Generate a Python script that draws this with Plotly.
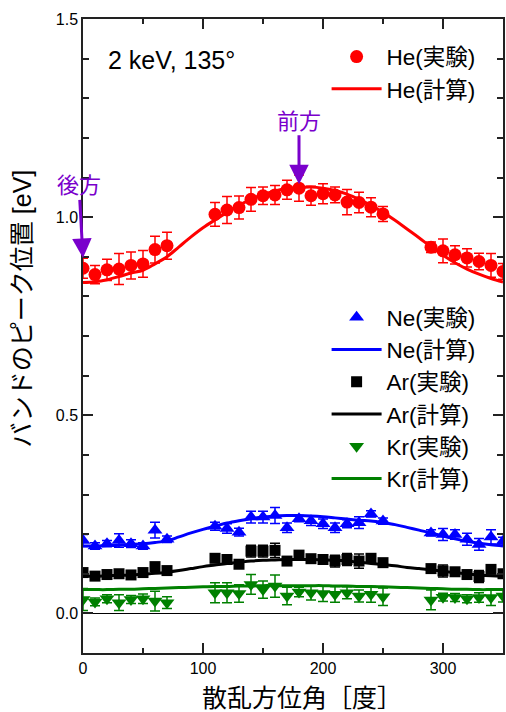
import plotly.graph_objects as go

# ---------------- data ----------------
angles_exp = [0, 10, 20, 30, 40, 50, 60, 70,
              110, 120, 130, 140, 150, 160, 170, 180, 190, 200, 210, 220, 230, 240, 250,
              290, 300, 310, 320, 330, 340, 350]
angles_calc = list(range(0, 360, 10))

he_exp = [0.871, 0.855, 0.867, 0.869, 0.878, 0.882, 0.918, 0.928,
          1.007, 1.018, 1.024, 1.045, 1.054, 1.056, 1.069, 1.073, 1.054, 1.059, 1.056, 1.038, 1.037, 1.025, 1.008,
          0.924, 0.915, 0.905, 0.897, 0.888, 0.878, 0.863]
he_err = [0.025, 0.023, 0.027, 0.039, 0.034, 0.034, 0.034, 0.034,
          0.030, 0.034, 0.029, 0.030, 0.022, 0.024, 0.024, 0.033, 0.024, 0.025, 0.020, 0.032, 0.026, 0.024, 0.019,
          0.013, 0.030, 0.023, 0.023, 0.021, 0.030, 0.020]
he_calc = [0.835, 0.837, 0.842, 0.850, 0.859, 0.866, 0.882, 0.900, 0.925, 0.950, 0.973, 0.993, 1.012, 1.030,
           1.045, 1.057, 1.066, 1.072, 1.075, 1.076, 1.073, 1.067, 1.058, 1.045, 1.030, 1.012, 0.992, 0.970,
           0.948, 0.925, 0.904, 0.885, 0.869, 0.856, 0.845, 0.836]

ne_exp = [0.184, 0.170, 0.176, 0.184, 0.176, 0.170, 0.210, 0.187,
          0.220, 0.214, 0.205, 0.243, 0.243, 0.247, 0.216, 0.239, 0.234, 0.226, 0.216, 0.226, 0.229, 0.251, 0.233,
          0.203, 0.199, 0.199, 0.187, 0.174, 0.193, 0.182]
ne_err = [0.015, 0.008, 0.008, 0.017, 0.010, 0.008, 0.020, 0.008,
          0.010, 0.012, 0.010, 0.015, 0.015, 0.020, 0.012, 0.008, 0.012, 0.012, 0.012, 0.010, 0.015, 0.008, 0.008,
          0.008, 0.015, 0.012, 0.015, 0.015, 0.018, 0.010]
ne_calc = [0.170, 0.170, 0.171, 0.172, 0.174, 0.176, 0.179, 0.183, 0.193, 0.203, 0.212, 0.220, 0.228, 0.234,
           0.239, 0.243, 0.246, 0.247, 0.247, 0.246, 0.244, 0.241, 0.238, 0.235, 0.233, 0.229, 0.224, 0.217,
           0.210, 0.203, 0.195, 0.188, 0.182, 0.177, 0.173, 0.170]

ar_exp = [0.103, 0.094, 0.098, 0.100, 0.097, 0.103, 0.118, 0.108,
          0.139, 0.136, 0.124, 0.157, 0.157, 0.159, 0.132, 0.147, 0.138, 0.136, 0.132, 0.136, 0.132, 0.139, 0.128,
          0.113, 0.107, 0.105, 0.098, 0.093, 0.111, 0.100]
ar_err = [0.008, 0.006, 0.006, 0.006, 0.006, 0.006, 0.006, 0.006,
          0.006, 0.006, 0.006, 0.015, 0.015, 0.018, 0.006, 0.006, 0.008, 0.010, 0.015, 0.015, 0.018, 0.006, 0.006,
          0.006, 0.015, 0.010, 0.006, 0.015, 0.006, 0.006]
ar_calc = [0.094, 0.094, 0.095, 0.096, 0.097, 0.099, 0.101, 0.104, 0.108, 0.113, 0.118, 0.122, 0.126, 0.129,
           0.132, 0.134, 0.135, 0.136, 0.136, 0.136, 0.135, 0.134, 0.132, 0.129, 0.126, 0.123, 0.120, 0.116,
           0.113, 0.110, 0.106, 0.103, 0.100, 0.097, 0.095, 0.094]

kr_exp = [0.035, 0.029, 0.037, 0.027, 0.035, 0.037, 0.031, 0.027,
          0.052, 0.052, 0.050, 0.073, 0.060, 0.069, 0.044, 0.054, 0.052, 0.050, 0.048, 0.052, 0.044, 0.048, 0.042,
          0.034, 0.041, 0.040, 0.037, 0.040, 0.040, 0.044]
kr_err = [0.028, 0.010, 0.010, 0.020, 0.010, 0.012, 0.025, 0.015,
          0.025, 0.025, 0.022, 0.025, 0.022, 0.028, 0.022, 0.012, 0.018, 0.020, 0.020, 0.015, 0.015, 0.020, 0.022,
          0.025, 0.010, 0.010, 0.010, 0.012, 0.020, 0.015]
kr_calc = [0.060, 0.060, 0.060, 0.061, 0.061, 0.062, 0.063, 0.064, 0.065, 0.066, 0.067, 0.068, 0.068, 0.069,
           0.069, 0.070, 0.070, 0.070, 0.070, 0.070, 0.070, 0.069, 0.069, 0.068, 0.068, 0.067, 0.066, 0.065,
           0.064, 0.063, 0.062, 0.061, 0.061, 0.060, 0.060, 0.060]

series = [
    # name, exp, err, calc, color, symbol, size, legend
    ("He", he_exp, he_err, he_calc, "#ff0000", "circle", 13, "legend"),
    ("Ne", ne_exp, ne_err, ne_calc, "#0000ff", "triangle-up", 13, "legend2"),
    ("Ar", ar_exp, ar_err, ar_calc, "#000000", "square", 11, "legend2"),
    ("Kr", kr_exp, kr_err, kr_calc, "#008000", "triangle-down", 13, "legend2"),
]

FONT = "Liberation Sans, Arial, Noto Sans CJK JP, sans-serif"
PURPLE = "#7a00cc"

fig = go.Figure()
for name, exp, err, calc, color, symbol, size, leg in series:
    fig.add_trace(go.Scatter(
        x=angles_calc, y=calc, mode="lines", name=f"{name}(計算)",
        line=dict(color=color, width=3, shape="spline"),
        legend=leg, cliponaxis=True,
    ))

for name, exp, err, calc, color, symbol, size, leg in series:
    fig.add_trace(go.Scatter(
        x=angles_exp, y=exp, mode="markers", name=f"{name}(実験)",
        marker=dict(color=color, symbol=symbol, size=size, line=dict(width=0)),
        error_y=dict(type="data", array=err, visible=True, color=color, thickness=1.5, width=5),
        legend=leg, cliponaxis=True,
    ))

order = {"He(実験)": 1, "He(計算)": 2, "Ne(実験)": 3, "Ne(計算)": 4,
         "Ar(実験)": 5, "Ar(計算)": 6, "Kr(実験)": 7, "Kr(計算)": 8}
for tr in fig.data:
    tr.legendrank = order[tr.name]

axis_common = dict(
    showline=True, linecolor="#222222", linewidth=1.5, mirror="ticks",
    ticks="inside", tickcolor="#222222", tickwidth=1.5, ticklen=10,
    showgrid=False, tickfont=dict(family=FONT, size=16, color="#000000"),
)

fig.update_xaxes(
    range=[0, 350], tickmode="linear", tick0=0, dtick=100,
    minor=dict(ticks="inside", dtick=50, ticklen=5, tickcolor="#222222", tickwidth=1.5, showgrid=False),
    zeroline=False, **axis_common,
)
fig.update_yaxes(
    range=[-0.1, 1.5], tickmode="array", tickvals=[0, 0.5, 1.0, 1.5],
    ticktext=["0.0", "0.5", "1.0", "1.5"],
    minor=dict(ticks="inside", dtick=0.1, tick0=0, ticklen=6, tickcolor="#222222", tickwidth=1.5, showgrid=False),
    zeroline=True, zerolinecolor="#000000", zerolinewidth=1,
    **axis_common,
)

legend_style = dict(
    font=dict(family=FONT, size=22.5, color="#000000"),
    bgcolor="rgba(0,0,0,0)", borderwidth=0, itemwidth=50,
    xanchor="left", yanchor="top", tracegroupgap=0,
)

fig.update_layout(
    width=506, height=712,
    margin=dict(l=83, r=1, t=19, b=59),
    plot_bgcolor="#ffffff", paper_bgcolor="#ffffff",
    font=dict(family=FONT, size=16, color="#000000"),
    showlegend=True,
    legend=dict(x=0.58, y=0.974, **legend_style),
    legend2=dict(x=0.58, y=0.563, **legend_style),
    annotations=[
        dict(text="2 keV, 135°", xref="paper", yref="paper", x=0.0545, y=0.935,
             xanchor="left", yanchor="middle", showarrow=False,
             font=dict(family=FONT, size=25, color="#000000")),
        dict(text="バンドのピーク位置 [eV]", xref="paper", yref="paper",
             x=-0.1445, y=0.544, xanchor="center", yanchor="middle", textangle=-90,
             showarrow=False, font=dict(family=FONT, size=25, color="#000000")),
        dict(text="散乱方位角［度］", xref="paper", yref="paper",
             x=0.521, y=-0.071, xanchor="center", yanchor="middle",
             showarrow=False, font=dict(family=FONT, size=25, color="#000000")),
        dict(text="前方", x=180, y=1.083, xref="x", yref="y", ax=0, ay=-63,
             showarrow=True, arrowhead=2, arrowsize=1.3, arrowwidth=3, arrowcolor=PURPLE,
             font=dict(family=FONT, size=22, color=PURPLE)),
        dict(text="後方", x=0, y=0.897, xref="x", yref="y", ax=-4, ay=-72,
             showarrow=True, arrowhead=2, arrowsize=1.3, arrowwidth=3, arrowcolor=PURPLE,
             font=dict(family=FONT, size=22, color=PURPLE)),
    ],
)

fig.write_html("out.html", config={"displayModeBar": False},
               post_script="document.body.style.margin='0';")
